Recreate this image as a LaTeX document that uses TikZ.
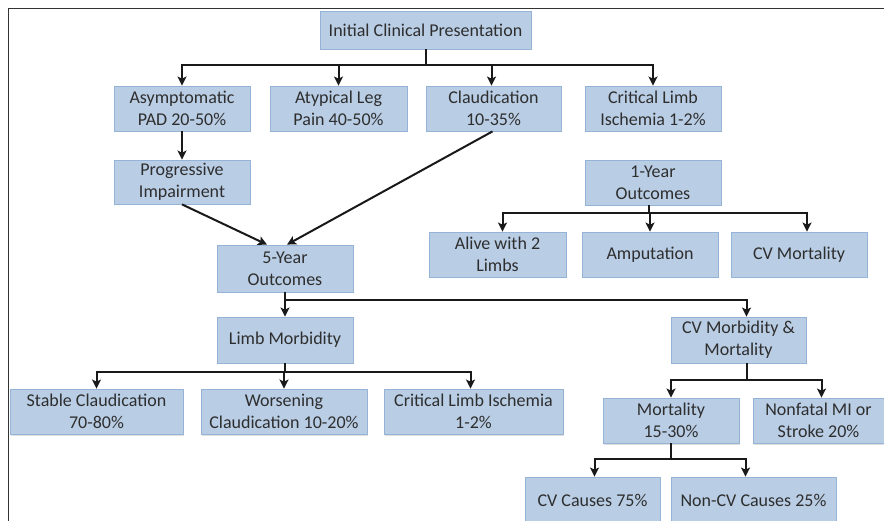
\documentclass[tikz,border=0pt]{standalone}
\usepackage{fontspec}
\setmainfont{Carlito}
\usetikzlibrary{arrows.meta,shadows}
\definecolor{boxfill}{HTML}{B9CDE5}
\definecolor{boxline}{HTML}{95B3D7}
\begin{document}
\begin{tikzpicture}[x=1pt, y=-1pt,
  every node/.style={font=\fontsize{18}{22}\selectfont, text=black!82},
  box/.style={draw=boxline, fill=boxfill, line width=0.8pt, align=center, inner sep=0pt,
    drop shadow={shadow xshift=1pt, shadow yshift=-1.5pt, opacity=0.25}},
  arr/.style={-{Stealth[length=9pt,width=9pt,inset=2pt]}, line width=2pt, black!90}]
\clip (0,0) rectangle (884,521);
\fill[white] (0,0) rectangle (884,521);
\draw[line width=1pt, black!80] (8,521) -- (8,9) -- (884,9);
% top level
\node[box,minimum width=211pt,minimum height=38pt] (init) at (425.5,30) {Initial Clinical Presentation};
\node[box,minimum width=136pt,minimum height=45pt] (asym) at (182,108.5) {Asymptomatic\\PAD 20-50\%};
\node[box,minimum width=137pt,minimum height=45pt] (atyp) at (338.5,108.5) {Atypical Leg\\Pain 40-50\%};
\node[box,minimum width=135pt,minimum height=45pt] (claud) at (493.5,108.5) {Claudication\\10-35\%};
\node[box,minimum width=136pt,minimum height=45pt] (cli) at (653,108.5) {Critical Limb\\Ischemia 1-2\%};
\node[box,minimum width=136pt,minimum height=44pt] (prog) at (182,182) {Progressive\\Impairment};
% 1-year branch
\node[box,minimum width=136pt,minimum height=45pt] (one) at (653,182.5) {1-Year\\Outcomes};
\node[box,minimum width=137pt,minimum height=45pt] (alive) at (497.5,254.5) {Alive with 2\\Limbs};
\node[box,minimum width=136pt,minimum height=45pt] (amp) at (650,254.5) {Amputation};
\node[box,minimum width=136pt,minimum height=45pt] (cvmort) at (799,254.5) {CV Mortality};
% 5-year branch
\node[box,minimum width=136pt,minimum height=47pt] (five) at (285,268.5) {5-Year\\Outcomes};
\node[box,minimum width=136pt,minimum height=46pt] (limb) at (285,340) {Limb Morbidity};
\node[box,minimum width=135pt,minimum height=46pt] (cvmm) at (738.5,340) {CV Morbidity \&\\Mortality};
\node[box,minimum width=173pt,minimum height=45pt] (stable) at (96.5,411.5) {Stable Claudication\\70-80\%};
\node[box,minimum width=166pt,minimum height=45pt] (worse) at (284,411.5) {Worsening\\Claudication 10-20\%};
\node[box,minimum width=179pt,minimum height=45pt] (cli5) at (473.5,411.5) {Critical Limb Ischemia\\1-2\%};
\node[box,minimum width=136pt,minimum height=45pt] (mort) at (671,420.5) {Mortality\\15-30\%};
\node[box,minimum width=131pt,minimum height=45pt] (nonfatal) at (818.5,420.5) {Nonfatal MI or\\Stroke 20\%};
\node[box,minimum width=135pt,minimum height=46pt] (cvc) at (592.5,500) {CV Causes 75\%};
\node[box,minimum width=165pt,minimum height=46pt] (noncv) at (753.5,500) {Non-CV Causes 25\%};
% connectors
\draw[arr] (init.south) -- ++(0,16) -| (asym.north);
\draw[arr] (init.south) -- ++(0,16) -| (atyp.north);
\draw[arr] (init.south) -- ++(0,16) -| ([xshift=-2]claud.north);
\draw[arr] (init.south) -- ++(0,16) -| (cli.north);
\draw[arr] (asym) -- (prog);
\draw[arr] (prog.south) -- ([xshift=-18]five.north);
\draw[arr] ([xshift=-1]claud.south) -- ([xshift=2]five.north);
\draw[arr] ([xshift=-4]one.south) -- ++(0,8) -| ([xshift=5]alive.north);
\draw[arr] ([xshift=-4]one.south) -- ++(0,8) -| (amp.north);
\draw[arr] ([xshift=-4]one.south) -- ++(0,8) -| ([xshift=8]cvmort.north);
\draw[arr] (five.south) -- ++(0,8) -| (limb.north);
\draw[arr] (five.south) -- ++(0,8) -| ([xshift=8]cvmm.north);
\draw[arr] (limb.south) -- ++(0,9) -| (stable.north);
\draw[arr] (limb.south) -- ++(0,9) -| (worse.north);
\draw[arr] (limb.south) -- ++(0,9) -| ([xshift=-3]cli5.north);
\draw[arr] ([xshift=8]cvmm.south) -- ++(0,17) -| (mort.north);
\draw[arr] ([xshift=8]cvmm.south) -- ++(0,17) -| ([xshift=3]nonfatal.north);
\draw[arr] (mort.south) -- ++(0,16) -| ([xshift=2]cvc.north);
\draw[arr] (mort.south) -- ++(0,16) -| ([xshift=-8]noncv.north);
\end{tikzpicture}
\end{document}
